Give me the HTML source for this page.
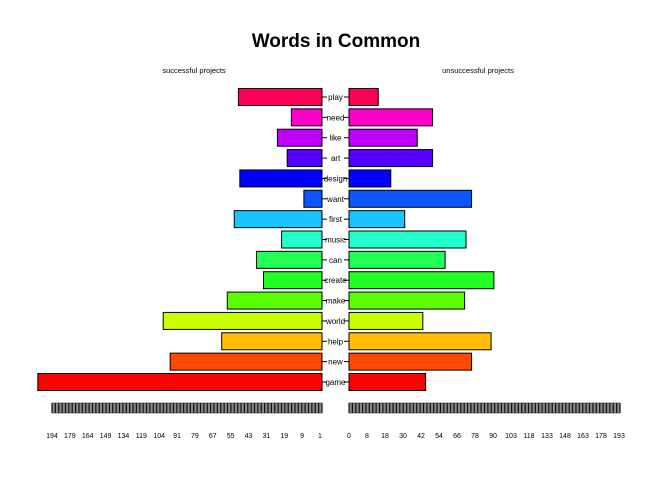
<!DOCTYPE html>
<html><head><meta charset="utf-8"><style>
html,body{margin:0;padding:0;background:#fff;}
svg{display:block;font-family:"Liberation Sans",Arial,sans-serif;}
</style></head><body>
<svg id="chart" width="672" height="480" viewBox="0 0 672 480">
<text x="336" y="47" text-anchor="middle" font-size="19" font-weight="bold">Words in Common</text>
<text x="194" y="73" text-anchor="middle" font-size="7.5">successful projects</text>
<text x="478" y="73" text-anchor="middle" font-size="7.5">unsuccessful projects</text>
<g id="bars"></g>
</svg>
<script>
const words = ["game","new","help","world","make","create","can","music","first","want","design","art","like","need","play"];
const successful = [204,109,72,114,68,42,47,29,63,13,59,25,32,22,60];
const unsuccessful = [55,88,102,53,83,104,69,84,40,88,30,60,49,60,21];
const colors = ["#FF0000","#FF4A00","#FFBF00","#C8FF00","#59FF00","#22FF22","#22FF55","#22FFCC","#19C4FF","#0D55FF","#0000FF","#5500FF","#BF00FF","#FF00CC","#FF0055"];
const leftTicks = ["194","179","164","149","134","119","104","91","79","67","55","43","31","19","9","1"];
const rightTicks = ["0","8","18","30","42","54","66","78","90","103","118","133","148","163","178","193"];

const NS="http://www.w3.org/2000/svg";
const g=document.getElementById('bars');
const LZ=322, RZ=349, PX=1.393;
const lx=v=>LZ-v*PX, rx=v=>RZ+v*PX;
const yc=i=>382-i*(285/14);
function mk(t,a){const e=document.createElementNS(NS,t);for(const k in a)e.setAttribute(k,a[k]);g.appendChild(e);return e;}
words.forEach((w,i)=>{
  const y=yc(i);
  let r=mk('rect',{x:lx(successful[i]),y:y-8.5,width:successful[i]*PX,height:17,fill:colors[i],stroke:'#000','stroke-width':1});
  
  
  r=mk('rect',{x:RZ,y:y-8.5,width:unsuccessful[i]*PX,height:17,fill:colors[i],stroke:'#000','stroke-width':1});
  
  
  mk('line',{x1:LZ,x2:327,y1:y,y2:y,stroke:'#000','stroke-width':1});
  mk('line',{x1:344,x2:RZ,y1:y,y2:y,stroke:'#000','stroke-width':1});
  const t=mk('text',{x:335.5,y:y+3,'text-anchor':'middle','font-size':8});
  t.textContent=w;
  
  
});
function strip(x0,x1,name){
  const s=mk('rect',{x:x0,y:403,width:x1-x0,height:10,fill:'#888',stroke:'#333','stroke-width':0.6});
  
  
  const n=80;
  for(let k=0;k<=n;k++){const x=x0+(x1-x0)*k/n;mk('line',{x1:x,x2:x,y1:403,y2:413,stroke:'#111','stroke-width':1.2});}
}
strip(52,322,'left-axis-strip');
strip(349,620,'right-axis-strip');
leftTicks.forEach((l,k)=>{
  const t=mk('text',{x:52+k*(320-52)/(leftTicks.length-1),y:438,'text-anchor':'middle','font-size':7});
  t.textContent=l;
  
  
});
rightTicks.forEach((l,k)=>{
  const t=mk('text',{x:349+k*(619-349)/(rightTicks.length-1),y:438,'text-anchor':'middle','font-size':7});
  t.textContent=l;
  
  
});
</script>
</body></html>
